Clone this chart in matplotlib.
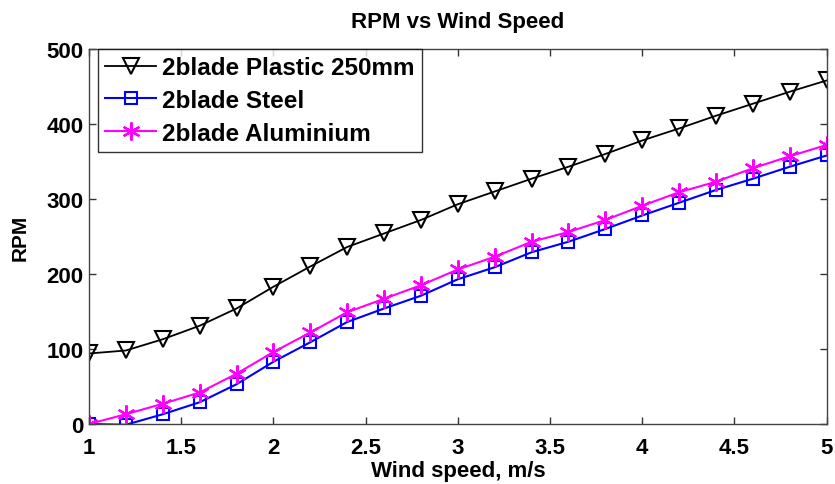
import numpy as np
import matplotlib.pyplot as plt

plt.rcParams['font.family'] = ['Liberation Sans', 'DejaVu Sans']
plt.rcParams['font.weight'] = 'bold'

# wind speed, m/s
wind = [1.0, 1.2, 1.4, 1.6, 1.8, 2.0, 2.2, 2.4, 2.6, 2.8, 3.0,
        3.2, 3.4, 3.6, 3.8, 4.0, 4.2, 4.4, 4.6, 4.8, 5.0]

rpm_plastic = [94, 98, 113, 131, 154, 183, 210, 236, 254, 272, 293,
               310, 327, 343, 360, 378, 394, 411, 427, 443, 458]
rpm_steel = [0, -1, 13, 29, 53, 83, 109, 136, 154, 171, 193,
             209, 229, 243, 260, 278, 295, 312, 327, 343, 358]
rpm_alu = [0, 13, 27, 42, 67, 96, 122, 149, 167, 185, 206,
           223, 243, 256, 272, 291, 309, 323, 341, 357, 372]

fig = plt.figure(figsize=(8.35, 4.85), dpi=100)
ax = fig.add_axes([0.1066, 0.1237, 0.8834, 0.7733])

ax.plot(wind, rpm_plastic, color='k', lw=1.3, marker='v', ms=11,
        mfc='none', mec='k', mew=1.5, label='2blade Plastic 250mm')
ax.plot(wind, rpm_steel, color='#0000FF', lw=1.5, marker='s', ms=9,
        mfc='none', mec='#0000FF', mew=1.5, label='2blade Steel')
ax.plot(wind, rpm_alu, color='#FF00FF', lw=1.5, marker=(6, 2, 0), ms=13,
        mfc='none', mec='#FF00FF', mew=1.6, label='2blade Aluminium')

ax.set_xlim(1, 5)
ax.set_ylim(0, 500)
ax.set_xticks([1, 1.5, 2, 2.5, 3, 3.5, 4, 4.5, 5])
ax.set_xticklabels(['1', '1.5', '2', '2.5', '3', '3.5', '4', '4.5', '5'])
ax.set_yticks([0, 100, 200, 300, 400, 500])
ax.tick_params(direction='in', top=True, right=True, labelsize=16,
               length=5, width=1, colors='#333333', labelcolor='k', pad=4)
ax.tick_params(axis='x', pad=9)
for s in ax.spines.values():
    s.set_color('#444444')
    s.set_linewidth(1)

ax.set_xlabel('Wind speed, m/s', fontsize=16, fontweight='bold', labelpad=2)
ax.set_ylabel('RPM', fontsize=15, fontweight='bold', labelpad=12)
ax.set_title('RPM vs Wind Speed', fontsize=16, fontweight='bold', pad=16)

leg = ax.legend(loc='upper left', bbox_to_anchor=(0.012, 1.0), fontsize=17.5,
                frameon=True, fancybox=False, edgecolor='k', borderaxespad=0,
                handlelength=2.1, borderpad=0.3, labelspacing=0.4,
                handletextpad=0.25)
leg.get_frame().set_linewidth(1)

fig.savefig('out.png', dpi=100)
